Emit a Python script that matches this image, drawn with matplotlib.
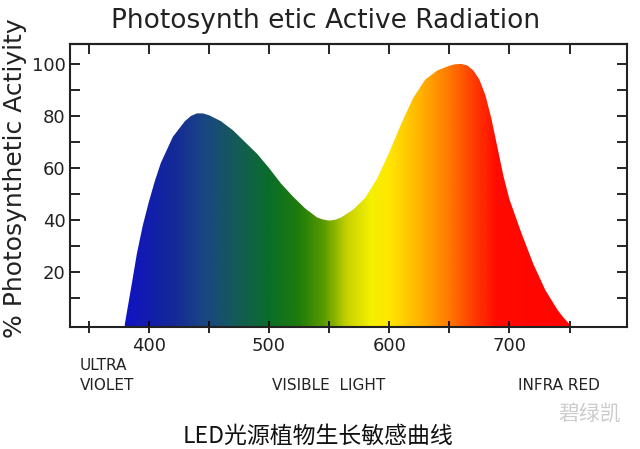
import numpy as np
import matplotlib.pyplot as plt
from matplotlib.colors import LinearSegmentedColormap

# wavelength (nm) and photosynthetic activity (%)
wavelength = [380, 383, 386, 390, 395, 400, 405, 410, 420, 430, 435, 440, 445, 450, 460, 470, 480,
              490, 500, 510, 520, 530, 540, 545, 550, 555, 560, 570, 580, 590, 600, 610, 620, 630,
              640, 650, 655, 660, 665, 670, 675, 680, 685, 690, 695, 700, 710, 720, 730, 740, 745, 750]
activity = [0, 8, 16, 27, 38, 47, 55, 62, 72, 78, 80, 81, 81, 80.3, 78, 74.5, 70,
            65.5, 60, 54, 49, 44.5, 41, 40.2, 39.8, 40.1, 41, 44, 48.5, 56, 66, 77, 87, 94,
            97.5, 99.3, 99.9, 100, 99.4, 97.5, 94, 88, 79, 68, 57, 48, 35, 23, 13, 5.5, 2.5, 0]

x_ticks = [350, 400, 450, 500, 550, 600, 650, 700, 750]
x_labels = ['', '400', '', '500', '', '600', '', '700', '']
y_ticks = [10, 20, 30, 40, 50, 60, 70, 80, 90, 100]
y_labels = ['', '20', '', '40', '', '60', '', '80', '', '100']

# spectrum colours along the wavelength axis
spec_nm = [375, 420, 445, 470, 500, 525, 545, 565, 585, 600, 625, 650, 670, 690, 800]
spec_rgb = ['#1010c8', '#142a96', '#1a4682', '#145a5a', '#0a6e28', '#207d0a', '#5a9a00',
            '#c8d200', '#f5f000', '#ffe600', '#ffb400', '#ff7800', '#ff3c00', '#ff0a00', '#ff0000']

plt.rcParams['font.family'] = ['DejaVu Sans']

fig = plt.figure(figsize=(6.4, 4.49), dpi=100)
ax = fig.add_axes([0.109, 0.2717, 0.871, 0.6305])

xmin, xmax, ymin, ymax = 334.2, 798, -1.1, 107.7
pos = [(v - spec_nm[0]) / (spec_nm[-1] - spec_nm[0]) for v in spec_nm]
cmap = LinearSegmentedColormap.from_list('spec', list(zip(pos, spec_rgb)))
grad = np.linspace(xmin, xmax, 600)
grad = ((grad - spec_nm[0]) / (spec_nm[-1] - spec_nm[0])).clip(0, 1)
img = ax.imshow(grad[np.newaxis, :], cmap=cmap, vmin=0, vmax=1, aspect='auto',
                extent=[xmin, xmax, ymin, ymax], interpolation='bilinear', zorder=1)
poly = ax.fill_between(wavelength, activity, ymin, color='none', lw=0)
clip = poly.get_paths()[0]
img.set_clip_path(clip, transform=ax.transData)

ax.set_xlim(xmin, xmax)
ax.set_ylim(ymin, ymax)
ax.set_xticks(x_ticks)
ax.set_xticklabels(x_labels)
ax.set_yticks(y_ticks)
ax.set_yticklabels(y_labels)
ax.tick_params(axis='x', direction='inout', length=9, width=1.2, labelsize=13, pad=3, top=False,
               labelcolor='#222222')
ax.tick_params(axis='y', direction='in', length=7, width=1.2, labelsize=13, pad=3,
               right=True, labelcolor='#222222')
for s in ax.spines.values():
    s.set_linewidth(1.5)
    s.set_color('#222222')

# top ticks pointing in
ax_top = ax.secondary_xaxis('top')
ax_top.set_xticks(x_ticks)
ax_top.set_xticklabels([])
ax_top.tick_params(direction='in', length=7, width=1.2)
ax_top.spines['top'].set_linewidth(1.5)

fig.text(0.508, 0.953, 'Photosynth etic Active Radiation', ha='center', va='center',
         fontsize=19, color='#222222')
fig.text(0.024, 1 - 338 / 449, '% Photosynthetic Actiyity', rotation=90, ha='center',
         va='bottom', fontsize=18, color='#222222')

fig.text(0.125, 1 - 366 / 449, 'ULTRA', fontsize=11, va='center', color='#222222')
fig.text(0.125, 1 - 385 / 449, 'VIOLET', fontsize=11, va='center', color='#222222')
fig.text(0.425, 1 - 385 / 449, 'VISIBLE  LIGHT', fontsize=11, va='center', color='#222222')
fig.text(0.809, 1 - 385 / 449, 'INFRA RED', fontsize=11, va='center', color='#222222')

fig.text(0.497, 1 - 436 / 449, 'LED光源植物生长敏感曲线', ha='center', va='center', fontsize=16.5,
         family=['Noto Sans CJK SC', 'DejaVu Sans'], color='#111111')
fig.text(0.873, 1 - 415 / 449, '碧绿凯', ha='left', va='center', fontsize=15,
         family=['Noto Sans CJK SC', 'DejaVu Sans'], color='#cccccc')

fig.savefig('out.png', dpi=100)
